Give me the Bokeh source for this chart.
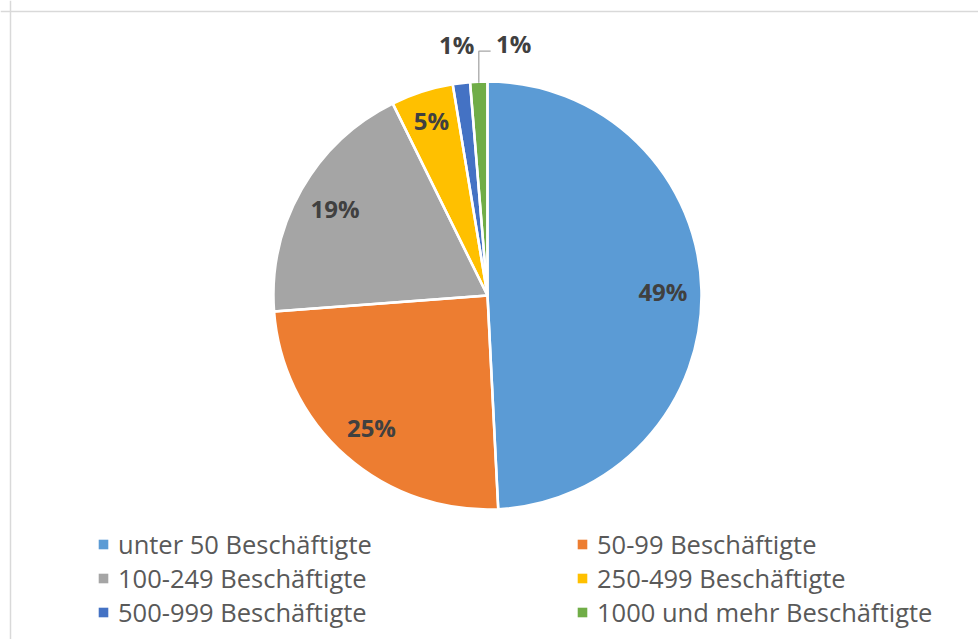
import math
from bokeh.plotting import figure
from bokeh.models import ColumnDataSource, Range1d, Legend, LegendItem, Span
from bokeh.core.properties import value
from bokeh.embed import file_html
from bokeh.resources import INLINE

# ---- data ----
categories = ["unter 50 Beschäftigte", "50-99 Beschäftigte", "100-249 Beschäftigte",
              "250-499 Beschäftigte", "500-999 Beschäftigte", "1000 und mehr Beschäftigte"]
shares = [49.2, 24.6, 18.9, 4.7, 1.3, 1.3]
pct_labels = ["49%", "25%", "19%", "5%", "1%", "1%"]
colors = ["#5B9BD5", "#ED7D31", "#A5A5A5", "#FFC000", "#4472C4", "#70AD47"]

# ---- layout (pixel-like data space) ----
W, H = 978, 639
CX, CY, R = 487, 344, 214
FONT = "Open Sans"

total = sum(shares)
starts, ends, mids, spans = [], [], [], []
acc = 0.0
for s in shares:
    a0 = math.pi / 2 - acc / total * 2 * math.pi
    acc += s
    a1 = math.pi / 2 - acc / total * 2 * math.pi
    starts.append(a0)
    ends.append(a1)
    mids.append((a0 + a1) / 2)
    spans.append(a0 - a1)

src = ColumnDataSource(dict(cat=categories, share=shares, color=colors,
                            start=starts, end=ends,
                            x=[CX] * len(shares), y=[CY] * len(shares)))

p = figure(width=W, height=H, output_backend="svg", toolbar_location=None,
           x_range=Range1d(0, W), y_range=Range1d(0, H),
           min_border=0, outline_line_color=None)
p.xaxis.visible = False
p.yaxis.visible = False
p.grid.visible = False
p.background_fill_color = "white"
p.border_fill_color = "white"

fill_r = p.wedge(x="x", y="y", radius=R, start_angle="start", end_angle="end",
                 direction="clock", fill_color="color", line_color=None, source=src)
p.wedge(x="x", y="y", radius=R, start_angle="start", end_angle="end",
        direction="clock", fill_color=None, line_color="white", line_width=2.5,
        source=src)

# ---- data labels ----
in_x, in_y, in_t = [], [], []
out_x, out_y, out_t = [], [], []
lead_xs, lead_ys = [], []
prev_out = None
for i, s in enumerate(shares):
    m = mids[i]
    if s / total >= 0.03:
        # narrow slices get their label pushed further out
        r = R * (0.82 + 0.06 * max(0.0, 1 - spans[i] / (math.pi / 4)))
        in_x.append(CX + r * math.cos(m))
        in_y.append(CY + r * math.sin(m))
        in_t.append(pct_labels[i])
    else:
        r = 1.18 * R
        lx = CX + r * math.cos(m)
        ly = CY + r * math.sin(m)
        if prev_out is not None and abs(lx - prev_out) < 50:
            # shift right to avoid overlap, add leader line
            ex = CX + (R - 1) * math.cos(m)
            ey = CY + (R - 1) * math.sin(m)
            nlx = prev_out + 57
            lead_xs.append([ex, ex, nlx - 23])
            lead_ys.append([ey, ly - 8, ly - 8])
            lx = nlx
        out_x.append(lx)
        out_y.append(ly)
        out_t.append(pct_labels[i])
        prev_out = lx

if lead_xs:
    p.multi_line(xs=lead_xs, ys=lead_ys, line_color="#A6A6A6", line_width=1.3)

p.text(x=in_x + out_x, y=in_y + out_y, text=in_t + out_t,
       text_font=value(FONT), text_font_style="bold", text_font_size="24px",
       text_color="#404040", text_align="center", text_baseline="middle")

# ---- chart border (left and top visible) ----
p.add_layout(Span(location=10, dimension="height", line_color="#D9D9D9", line_width=1.5))
p.add_layout(Span(location=H - 11, dimension="width", line_color="#D9D9D9", line_width=1.5))

# ---- legend: two columns ----
def make_legend(idx, x):
    return Legend(items=[LegendItem(label=categories[i], renderers=[fill_r], index=i) for i in idx],
                  location=(x, 10), orientation="vertical",
                  label_text_font=FONT, label_text_font_size="25.5px",
                  label_text_color="#595959", glyph_width=12, glyph_height=12,
                  label_standoff=9, padding=0, margin=0, spacing=-2,
                  border_line_color=None, background_fill_alpha=0)

p.add_layout(make_legend([0, 2, 4], 97))
p.add_layout(make_legend([1, 3, 5], 576))

open("out.html", "w").write(file_html(p, INLINE))
